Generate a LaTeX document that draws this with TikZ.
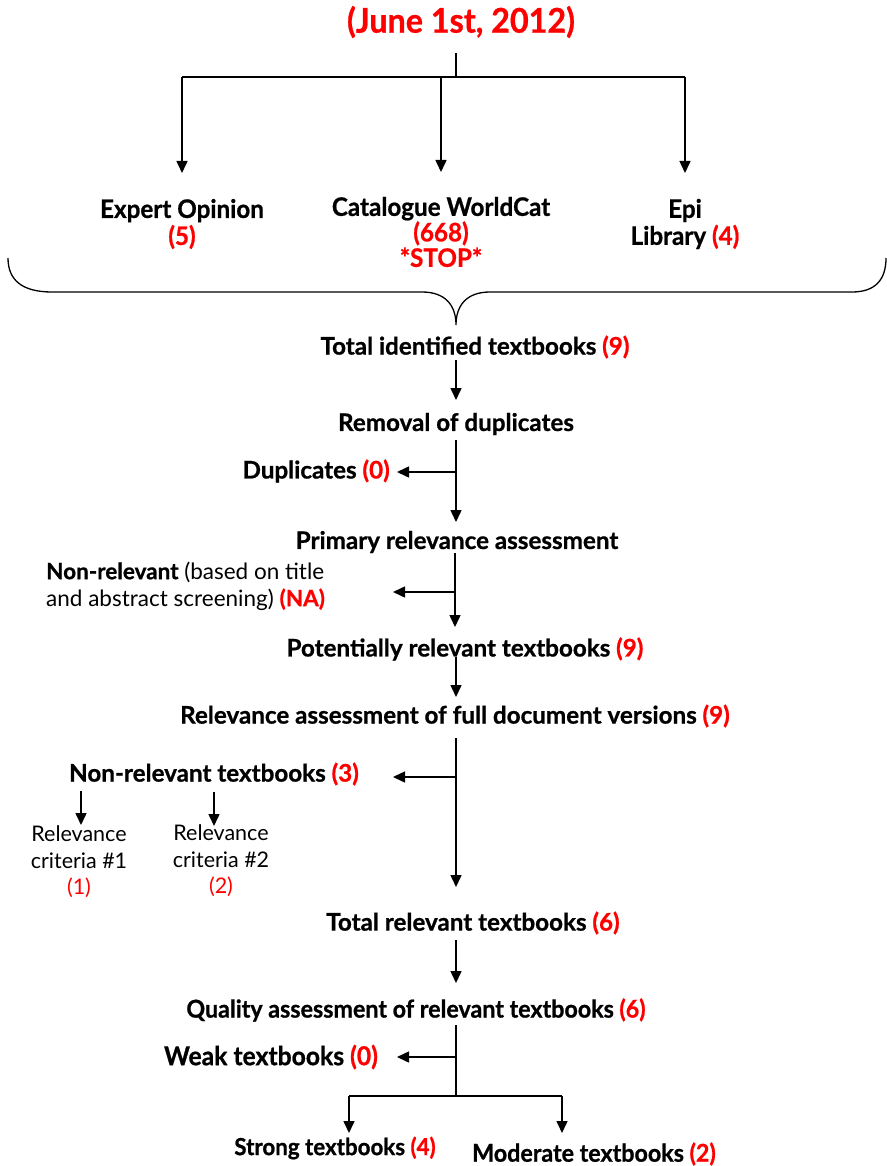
\documentclass[tikz,border=0pt]{standalone}
\usepackage{fontspec}
\setmainfont{Lato}[BoldFeatures={FakeBold=0.8}]
\newfontfamily\cond{Lato}[FakeStretch=0.95,BoldFeatures={FakeBold=0.8}]
\usetikzlibrary{arrows.meta}
\newcommand{\rd}[1]{\textcolor{red}{#1}}
\tikzset{
  lbl/.style={inner sep=0pt, font=\bfseries\fontsize{24.2}{27}\selectfont, align=center},
  clbl/.style={inner sep=0pt, font=\cond\bfseries\fontsize{24.5}{26}\selectfont, align=center},
  rlbl/.style={inner sep=0pt, font=\fontsize{21.5}{26.5}\selectfont, align=center},
  ln/.style={line width=1.5pt},
  arr/.style={line width=1.5pt, -{Triangle[length=12pt,width=11pt]}},
}
\begin{document}
\begin{tikzpicture}[x=1pt,y=-1pt]
\useasboundingbox (0,0) rectangle (886,1166);

% nodes
\node[clbl, font=\cond\bfseries\fontsize{34}{36}\selectfont, text=red] (title) at (461,22) {(June 1st, 2012)};
\node[clbl, font=\cond\bfseries\fontsize{25.5}{27}\selectfont] (exp) at (182,224) {Expert Opinion\\\rd{(5)}};
\node[clbl, font=\cond\bfseries\fontsize{25.5}{25.5}\selectfont] (cat) at (441,232) {Catalogue WorldCat\\\rd{(668)}\\\rd{*STOP*}};
\node[clbl, font=\cond\bfseries\fontsize{25.5}{27}\selectfont] (epi) at (685,224) {Epi\\Library \rd{(4)}};
\node[lbl] (total) at (475,347) {Total identified textbooks \rd{(9)}};
\node[lbl] (removal) at (456,424) {Removal of duplicates};
\node[lbl, anchor=east] (dup) at (390,471) {Duplicates \rd{(0)}};
\node[lbl] (primary) at (457,542) {Primary relevance assessment};
\node[rlbl, anchor=west, align=left, font=\fontsize{22.5}{27}\selectfont] (nonrel) at (46,586) {\textbf{Non-relevant} (based on title\\and abstract screening) \textbf{\rd{(NA)}}};
\node[lbl] (potential) at (465,649) {Potentially relevant textbooks \rd{(9)}};
\node[lbl] (relfull) at (455,716) {Relevance assessment of full document versions \rd{(9)}};
\node[lbl] (nrt) at (214,774) {Non-relevant textbooks \rd{(3)}};
\node[rlbl] (c1) at (79,862) {Relevance\\criteria \#1\\\rd{(1)}};
\node[rlbl] (c2) at (221,861) {Relevance\\criteria \#2\\\rd{(2)}};
\node[lbl] (totrel) at (473,923) {Total relevant textbooks \rd{(6)}};
\node[clbl] (quality) at (416,1010) {Quality assessment of relevant textbooks \rd{(6)}};
\node[clbl, font=\cond\bfseries\fontsize{26}{26}\selectfont] (weak) at (271,1057) {Weak textbooks \rd{(0)}};
\node[clbl, font=\cond\bfseries\fontsize{23.5}{26}\selectfont] (strong) at (335,1148) {Strong textbooks \rd{(4)}};
\node[clbl] (moderate) at (594,1154) {Moderate textbooks \rd{(2)}};

% coordinates
\coordinate (t0) at (456,53);
\coordinate (t1) at (456,77);
\coordinate (tl) at (182,77);
\coordinate (tr) at (685,77);
\coordinate (tm) at (441,77);
\coordinate (e1) at (182,173);
\coordinate (e2) at (441,172);
\coordinate (e3) at (685,173);

\draw[ln] (t0) -- (t1);
\draw[ln] (tl) -- (tr);
\draw[arr] (tl) -- (e1);
\draw[arr] (tm) -- (e2);
\draw[arr] (tr) -- (e3);

% brace
\coordinate (bl) at (8,258);
\coordinate (bc) at (456,325);
\coordinate (br) at (886,258);
\draw[line width=1.3pt] (bl) .. controls (8,280) and (22,292) .. (52,292) -- (422,292)
  .. controls (445,292) and (456,305) .. (bc)
  .. controls (456,305) and (467,292) .. (490,292) -- (852,292)
  .. controls (875,292) and (886,280) .. (br);

% spine
\coordinate (s1a) at (456,360); \coordinate (s1b) at (456,400);
\draw[arr] (s1a) -- (s1b);

\coordinate (s2a) at (456,440); \coordinate (s2b) at (456,522);
\coordinate (s2j) at (456,472); \coordinate (s2e) at (397,472);
\draw[arr] (s2a) -- (s2b);
\draw[arr] (s2j) -- (s2e);

\coordinate (s3a) at (455,553); \coordinate (s3b) at (455,627);
\coordinate (s3j) at (455,592); \coordinate (s3e) at (393,592);
\draw[arr] (s3a) -- (s3b);
\draw[arr] (s3j) -- (s3e);

\coordinate (s4a) at (456,657); \coordinate (s4b) at (456,697);
\draw[arr] (s4a) -- (s4b);

\coordinate (s5a) at (456,738); \coordinate (s5b) at (456,887);
\coordinate (s5j) at (456,777); \coordinate (s5e) at (393,777);
\draw[arr] (s5a) -- (s5b);
\draw[arr] (s5j) -- (s5e);

\coordinate (n1a) at (81,791); \coordinate (n1b) at (81,825);
\coordinate (n2a) at (214,792); \coordinate (n2b) at (214,826);
\draw[arr] (n1a) -- (n1b);
\draw[arr] (n2a) -- (n2b);

\coordinate (s6a) at (456,940); \coordinate (s6b) at (456,983);
\draw[arr] (s6a) -- (s6b);

\coordinate (s7a) at (456,1025); \coordinate (s7b) at (456,1096);
\coordinate (s7j) at (456,1057); \coordinate (s7e) at (397,1057);
\coordinate (ql) at (349,1096); \coordinate (qr) at (562,1096);
\coordinate (qla) at (349,1133); \coordinate (qra) at (562,1133);
\draw[ln] (s7a) -- (s7b);
\draw[arr] (s7j) -- (s7e);
\draw[ln] (ql) -- (qr);
\draw[arr] (ql) -- (qla);
\draw[arr] (qr) -- (qra);
\end{tikzpicture}
\end{document}
